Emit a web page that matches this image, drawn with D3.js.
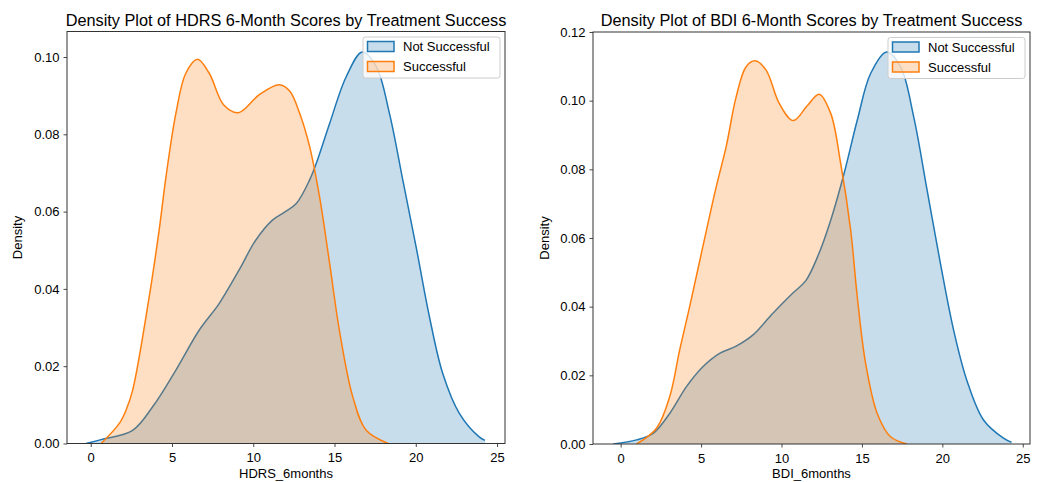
<!DOCTYPE html>
<html><head><meta charset="utf-8">
<script src="https://cdn.jsdelivr.net/npm/d3@7"></script>
<style>body{margin:0;background:#fff;} svg{display:block;} text{font-family:"Liberation Sans",Arial,sans-serif;fill:#000;}</style>
</head><body><svg id="c" width="1037" height="482"></svg>
<script>
// ---- data ----
const seriesNames = ["Not Successful", "Successful"];
const colors = ["#1f77b4", "#ff7f0e"];

const titles = ["Density Plot of HDRS 6-Month Scores by Treatment Success",
                "Density Plot of BDI 6-Month Scores by Treatment Success"];
const xLabels = ["HDRS_6months", "BDI_6months"];
const xTicks = [0, 5, 10, 15, 20, 25];
const yTicksHDRS = [0, 0.02, 0.04, 0.06, 0.08, 0.10];
const yTicksBDI = [0, 0.02, 0.04, 0.06, 0.08, 0.10, 0.12];

// HDRS — Not Successful [x, density]
const hdrsNot = [[-0.29,0],[0.64,0.001],[2.58,0.0034],[3.81,0.0095],[5.24,0.019],[6.67,0.0293],[7.9,0.0362],
  [9.13,0.0449],[10.15,0.0526],[11.18,0.0578],[11.9,0.0598],[12.65,0.0621],[13.47,0.0682],[13.88,0.0725],
  [14.7,0.0828],[15.72,0.0949],[16.71,0.1013],[17.57,0.0975],[18.38,0.0854],[19.2,0.0682],[20.02,0.0509],
  [20.84,0.0328],[21.66,0.0181],[22.68,0.0078],[23.9,0.0017],[24.26,0.0008]];
// HDRS — Successful
const hdrsSuc = [[0.64,0],[1.76,0.0052],[2.17,0.0086],[2.58,0.0138],[3.6,0.038],[4.21,0.0552],[4.63,0.069],[5.24,0.0854],
  [5.85,0.0958],[6.57,0.0994],[7.29,0.0958],[8.2,0.0875],[9.09,0.0856],[10.36,0.0902],[11.6,0.0928],
  [12.24,0.0912],[12.86,0.0854],[13.47,0.0768],[14.08,0.0638],[14.7,0.0466],[15.3,0.0293],[16.13,0.012],
  [16.95,0.0034],[18.3,0]];
// BDI — Not Successful
const bdiNot = [[-0.46,0],[0.99,0.0012],[2.02,0.0031],[3.05,0.0089],[4.09,0.0167],[5.11,0.0225],[6.15,0.0264],
  [7.18,0.0285],[8.21,0.0317],[9.45,0.038],[10.69,0.0439],[11.5,0.0475],[12.24,0.0545],[13.06,0.0652],
  [13.89,0.0788],[14.71,0.0943],[15.54,0.1079],[16.53,0.1142],[17.4,0.1099],[18.22,0.0953],[19.05,0.074],
  [19.88,0.0526],[20.7,0.0332],[21.52,0.0186],[22.56,0.007],[23.8,0.0017],[24.3,0.0005]];
// BDI — Successful
const bdiSuc = [[0.99,0],[2.23,0.0046],[3.05,0.0138],[3.67,0.0274],[4.29,0.04],[5.11,0.0575],[5.94,0.0749],
  [6.56,0.0866],[7.18,0.1011],[7.8,0.1099],[8.36,0.1116],[9.04,0.1089],[9.86,0.0992],[10.73,0.0942],
  [11.6,0.0985],[12.34,0.1019],[13.06,0.0963],[13.68,0.0817],[14.3,0.0623],[14.71,0.0429],[15.23,0.0235],
  [15.95,0.0089],[16.78,0.0021],[17.8,0]];

const panels = [
  {x0:67, x1:505, yT:31.5, yB:443.5, xDom:[-1.46,25.49], yDom:[0,0.1066], yTicks:yTicksHDRS,
   series:[hdrsNot, hdrsSuc], title:titles[0], xLabel:xLabels[0], ylabX:18},
  {x0:593, x1:1030, yT:32, yB:444, xDom:[-1.72,25.45], yDom:[0,0.12], yTicks:yTicksBDI,
   series:[bdiNot, bdiSuc], title:titles[1], xLabel:xLabels[1], ylabX:545}
];

const svg = d3.select("#c");

panels.forEach(p => {
  const x = d3.scaleLinear().domain(p.xDom).range([p.x0, p.x1]);
  const y = d3.scaleLinear().domain(p.yDom).range([p.yB, p.yT]);
  const g = svg.append("g");
  const clipId = "clip" + p.x0;
  svg.append("clipPath").attr("id", clipId).append("rect")
    .attr("x", p.x0).attr("y", p.yT).attr("width", p.x1 - p.x0).attr("height", p.yB - p.yT);
  const plot = g.append("g").attr("clip-path", `url(#${clipId})`);

  const area = d3.area().x(d => x(d[0])).y0(y(0)).y1(d => y(d[1])).curve(d3.curveCatmullRom.alpha(0.5));
  const line = d3.line().x(d => x(d[0])).y(d => y(d[1])).curve(d3.curveCatmullRom.alpha(0.5));
  p.series.forEach((s, i) => {
    plot.append("path").attr("d", area(s)).attr("fill", colors[i]).attr("fill-opacity", 0.25);
    plot.append("path").attr("d", line(s)).attr("fill", "none").attr("stroke", colors[i]).attr("stroke-width", 1.5);
  });

  // axes
  const xAxis = d3.axisBottom(x).tickValues(xTicks).tickFormat(d3.format("d")).tickSize(3.5).tickPadding(6);
  const xg = g.append("g").attr("transform", `translate(0,${p.yB})`).call(xAxis);
  const yAxis = d3.axisLeft(y).tickValues(p.yTicks).tickFormat(d3.format(".2f")).tickSize(3.5).tickPadding(4);
  const yg = g.append("g").attr("transform", `translate(${p.x0},0)`).call(yAxis);
  [xg, yg].forEach(a => {
    a.select(".domain").remove();
    a.selectAll(".tick line").attr("stroke", "#333").attr("stroke-width", 0.9);
    a.selectAll(".tick text").attr("font-size", 13).attr("font-family", '"Liberation Sans",Arial,sans-serif').attr("fill", "#000");
  });

  // frame
  g.append("rect").attr("x", p.x0).attr("y", p.yT).attr("width", p.x1 - p.x0).attr("height", p.yB - p.yT)
    .attr("fill", "none").attr("stroke", "#333").attr("stroke-width", 1);

  // title & labels
  g.append("text").attr("x", (p.x0 + p.x1) / 2).attr("y", 25.5).attr("text-anchor", "middle")
    .attr("font-size", 16.3).text(p.title);
  g.append("text").attr("x", (p.x0 + p.x1) / 2).attr("y", 478).attr("text-anchor", "middle")
    .attr("font-size", 13).text(p.xLabel);
  g.append("text").attr("transform", `translate(${p.ylabX + 4},${(p.yT + p.yB) / 2}) rotate(-90)`)
    .attr("text-anchor", "middle").attr("font-size", 13).text("Density");

  // legend
  const lx = p.x1 - 142, ly = p.yT + 5.5;
  const lg = g.append("g");
  lg.append("rect").attr("x", lx).attr("y", ly).attr("width", 137).attr("height", 41).attr("rx", 2.5)
    .attr("fill", "#fff").attr("fill-opacity", 0.8).attr("stroke", "#ccc").attr("stroke-width", 1);
  seriesNames.forEach((n, i) => {
    const yy = ly + 4.5 + i * 20;
    lg.append("rect").attr("x", lx + 4.5).attr("y", yy).attr("width", 26.5).attr("height", 10)
      .attr("fill", colors[i]).attr("fill-opacity", 0.25).attr("stroke", colors[i]).attr("stroke-width", 1.5);
    lg.append("text").attr("x", lx + 40).attr("y", yy + 9.5).attr("font-size", 13).text(n);
  });
});
</script>
</body></html>
